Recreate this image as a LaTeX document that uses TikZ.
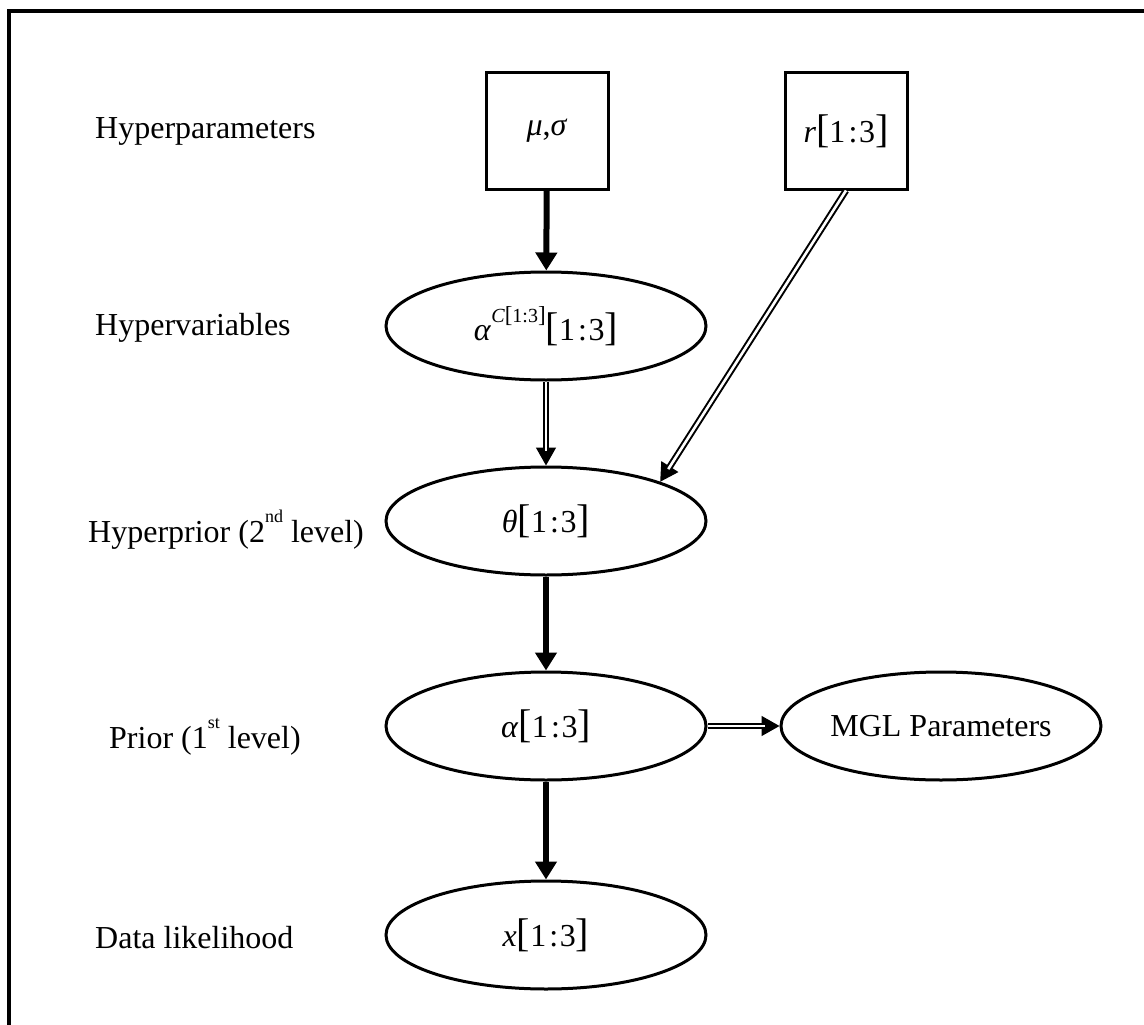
\documentclass[tikz,border=0pt]{standalone}
\usepackage{fontspec}
\setmainfont{Liberation Serif}
\usetikzlibrary{arrows.meta,shapes.geometric}

% index ranges with enlarged square brackets
\newcommand\bigbrk[2]{{\fontsize{#1}{#1}\selectfont[}#2{\fontsize{#1}{#1}\selectfont]}}
\newcommand\rng{\bigbrk{40}{1\hspace{0.1em}:\hspace{0.05em}3}}
\newcommand\smallrng{\bigbrk{23}{1:3}}
% raised ordinal suffix
\newcommand\ordsup[1]{\raisebox{0.62em}{\fontsize{18}{18}\selectfont #1}}

\begin{document}
\begin{tikzpicture}[x=1pt,y=-1pt,
  every node/.style={font=\fontsize{32}{38}\selectfont},
  lvl/.style={anchor=west, inner sep=0pt},
  varnode/.style={ellipse, draw, line width=3pt, minimum width=320pt,
                  minimum height=108pt, inner sep=0pt},
  hyperbox/.style={rectangle, draw, line width=3pt, minimum width=122pt,
                   minimum height=116pt, inner sep=0pt},
  heavy/.style={line width=6pt, -{Triangle[length=18pt,width=21pt]}},
  dbltip/.style={line width=1.5pt, -{Triangle[length=18pt,width=20pt]}},
  dblline/.style={double, double distance=2.6pt, line width=2pt, shorten >=15pt},
]
\useasboundingbox (0,0) rectangle (1144,1025);

% outer frame (left and top edges)
\draw[line width=3.5pt] (9,1025) -- (9,11) -- (1144,11);

% level labels
\node[lvl] (l1) at (95,131) {Hyperparameters};
\node[lvl] (l2) at (95,328) {Hypervariables};
\node[lvl] (l3) at (88,530) {Hyperprior (2\ordsup{nd} level)};
\node[lvl] (l4) at (109,737) {Prior (1\ordsup{st} level)};
\node[lvl] (l5) at (95,938) {Data likelihood};

% nodes
\node[hyperbox] (ms) at (547,131) {\textit{μ},\textit{σ}};
\node[hyperbox] (r) at (846,131) {\textit{r}\rng};
\node[varnode] (ac) at (546,326) {\textit{α}\raisebox{0.55em}{\fontsize{20}{20}\selectfont\textit{C}\smallrng}\rng};
\node[varnode] (th) at (546,521) {\textit{θ}\rng};
\node[varnode] (al) at (546,726) {\textit{α}\rng};
\node[varnode] (mgl) at (941,726) {MGL Parameters};
\node[varnode] (x) at (546,935) {\textit{x}\rng};

% solid links
\draw[heavy] (ms) -- (ac);
\draw[heavy] (th) -- (al);
\draw[heavy] (al) -- (x);

% double-line links
\draw[dbltip] (ac) -- (th);
\draw[dblline] (ac) -- (th);
\draw[dbltip] (r.south) -- (th.north east);
\draw[dblline] (r.south) -- (th.north east);
\draw[dbltip] (al) -- (mgl);
\draw[dblline] (al) -- (mgl);
\end{tikzpicture}
\end{document}
